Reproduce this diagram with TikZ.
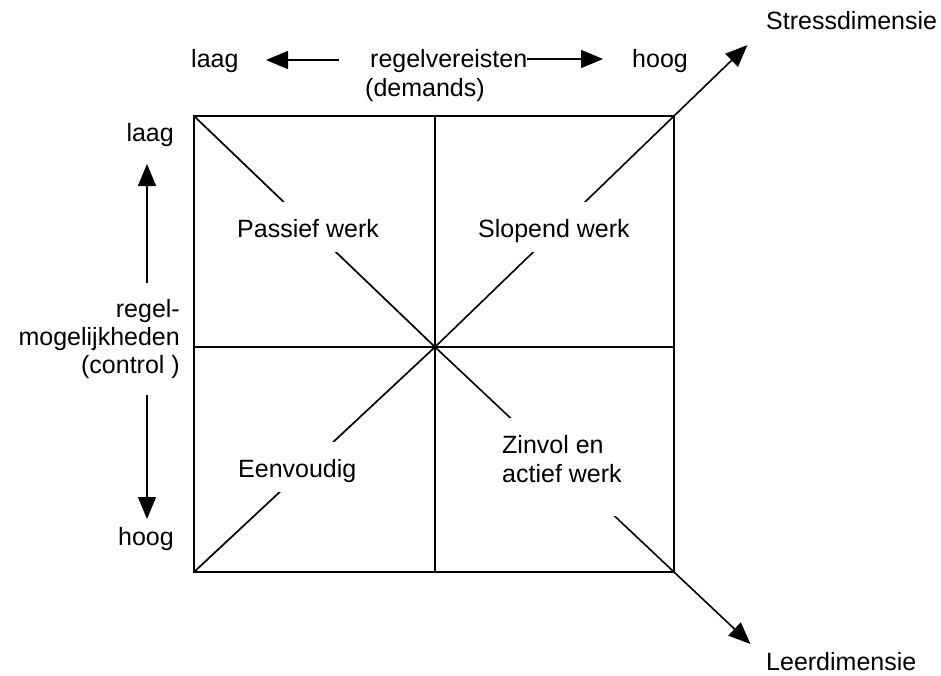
\documentclass[tikz,border=0pt]{standalone}
\usepackage{fontspec}
\setmainfont{Liberation Sans}
\usetikzlibrary{arrows.meta,calc}
\begin{document}
\begin{tikzpicture}[x=1pt,y=-1pt,
  txt/.style={inner sep=0pt, font=\fontsize{25}{29}\selectfont},
  cell/.style={txt, fill=white, text height=35pt, text depth=15pt, anchor=base west},
  frame/.style={line width=1.7pt},
  arr/.style={line width=1.6pt, -{Triangle[length=22pt,width=18pt]}}]
\useasboundingbox (0,0) rectangle (941,675);

% square corners, edge midpoints and centre
\coordinate (tl) at (194,116);
\coordinate (tr) at (674,116);
\coordinate (bl) at (194,572);
\coordinate (br) at (674,572);
\coordinate (tm) at (435,116);
\coordinate (bm) at (435,572);
\coordinate (ml) at (194,347);
\coordinate (mr) at (674,347);
\coordinate (c)  at (435,347);
\coordinate (stip) at ($(c)!1.307!(tr)$);
\coordinate (ltip) at ($(c)!1.32!(br)$);

% four quadrants
\draw[frame] (tl) rectangle (br);
\draw[frame] (tm) -- (bm);
\draw[frame] (ml) -- (mr);

% diagonals and the two dimension arrows
\draw[frame] (tl) -- (c);
\draw[frame] (bl) -- (c);
\draw[frame, arr] (c) -- (stip);
\draw[frame, arr] (c) -- (ltip);

% quadrant labels (white boxes interrupt the diagonals)
\node[cell] (passief) at (237,237) {Passief werk};
\node[cell] (slopend) at (478,237) {Slopend werk};
\node[cell] (eenvoudig) at (238,477) {Eenvoudig};
\node[txt, fill=white, text height=64pt, text depth=34pt, anchor=base west] (zinvol) at (502,482)
  {\begin{tabular}[b]{@{}l@{}}Zinvol en\\actief werk\end{tabular}};

% dimension labels
\node[txt, anchor=base west] (stress) at (766,29) {Stressdimensie};
\node[txt, anchor=base west] (leer) at (766,670) {Leerdimensie};

% demands axis
\node[txt, anchor=base west] (dlaag) at (191,67) {laag};
\node[txt, anchor=base west] (demands) at (370,67) {regelvereisten};
\node[txt, anchor=base west] (demands2) at (365,96) {(demands)};
\node[txt, anchor=base west] (dhoog) at (632,67) {hoog};
\coordinate (dl1) at (339,60);
\coordinate (dl2) at (266,60);
\coordinate (dr1) at (527,59);
\coordinate (dr2) at (603,59);
\draw[arr] (dl1) -- (dl2);
\draw[arr] (dr1) -- (dr2);

% control axis
\node[txt, anchor=base east] (claag) at (174,141) {laag};
\node[txt, font=\fontsize{25}{28}\selectfont, anchor=base east] (control) at (180,373)
  {\begin{tabular}[b]{@{}r@{}}regel-\\mogelijkheden\\(control )\end{tabular}};
\node[txt, anchor=base east] (choog) at (174,545) {hoog};
\coordinate (cu1) at (147,283);
\coordinate (cu2) at (147,164);
\coordinate (cd1) at (147,395);
\coordinate (cd2) at (147,519);
\draw[arr] (cu1) -- (cu2);
\draw[arr] (cd1) -- (cd2);
\end{tikzpicture}
\end{document}
